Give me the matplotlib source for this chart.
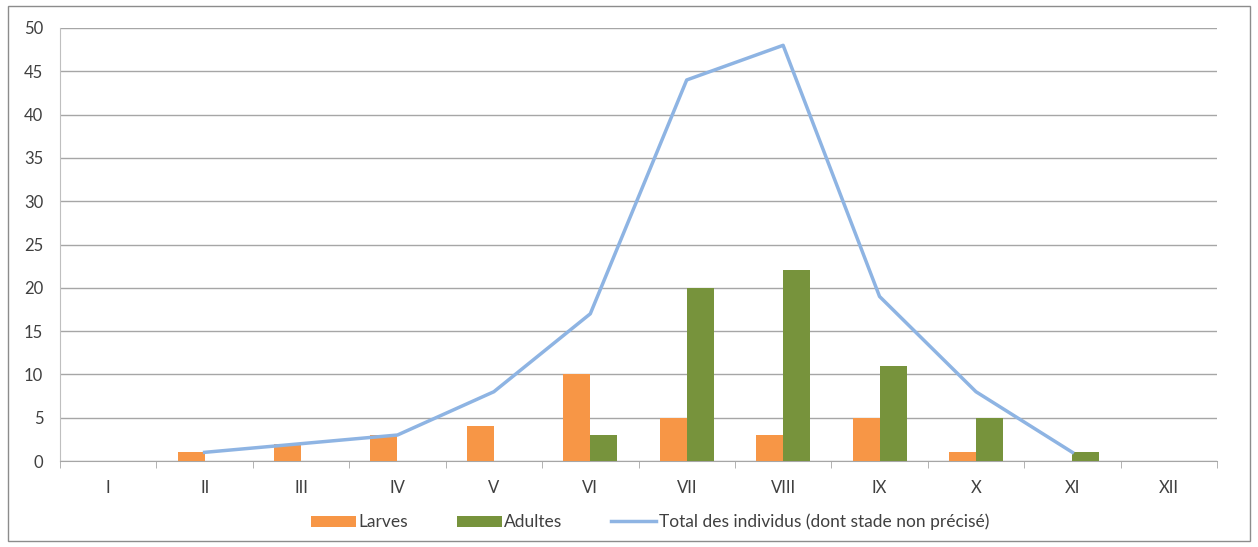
import matplotlib
matplotlib.use("Agg")
import matplotlib.pyplot as plt
import numpy as np
from matplotlib.patches import Rectangle

months = ["I", "II", "III", "IV", "V", "VI", "VII", "VIII", "IX", "X", "XI", "XII"]
larves = [0, 1, 2, 3, 4, 10, 5, 3, 5, 1, 0, 0]
adultes = [0, 0, 0, 0, 0, 3, 20, 22, 11, 5, 1, 0]
total = [np.nan, 1, 2, 3, 8, 17, 44, 48, 19, 8, 1, np.nan]

plt.rcParams['font.family'] = ['Lato', 'DejaVu Sans']

fig = plt.figure(figsize=(12.58, 5.47), dpi=100)
ax = fig.add_axes([60/1258, 1-461/547, (1217-60)/1258, (461-28)/547])

x = np.arange(len(months))
w = 0.28
b1 = ax.bar(x - w/2, larves, w, color="#F79646", label="Larves", zorder=3)
b2 = ax.bar(x + w/2, adultes, w, color="#77933C", label="Adultes", zorder=3)
l1, = ax.plot(x, total, color="#8EB4E3", lw=2.5, label="Total des individus (dont stade non précisé)", zorder=4)

ax.set_xlim(-0.5, len(months) - 0.5)
ax.set_ylim(0, 50)
ax.set_yticks(np.arange(0, 51, 5))
ax.yaxis.grid(True, color="#A6A6A6", lw=1)
ax.set_axisbelow(True)
ax.set_xticks(x)
ax.set_xticklabels(months)
ax.set_xticks(np.arange(-0.5, len(months)), minor=True)
ax.tick_params(axis='x', which='major', length=0, pad=14, labelsize=12, labelcolor="#404040")
ax.tick_params(axis='x', which='minor', length=5, color="#A6A6A6", direction='out')
ax.tick_params(axis='y', length=0, pad=12, labelsize=12, labelcolor="#404040")
for s in ["top", "right"]:
    ax.spines[s].set_visible(False)
ax.spines["left"].set_color("#BFBFBF")
ax.spines["bottom"].set_color("#A6A6A6")

leg = fig.legend([b1, b2, l1], [b1.get_label(), b2.get_label(), l1.get_label()],
                 loc="center", bbox_to_anchor=(650/1258, 1-522/547), ncol=3, frameon=False,
                 fontsize=12.5, handlelength=2.6, handleheight=0.6, columnspacing=2.8, handletextpad=0.15)
for t in leg.get_texts():
    t.set_color("#404040")

fig.patches.append(Rectangle((8/1258, 6/547), 1242/1258, 535/547, transform=fig.transFigure,
                             fill=False, edgecolor="#8C8C8C", lw=1))

fig.savefig("out.png", dpi=100)
